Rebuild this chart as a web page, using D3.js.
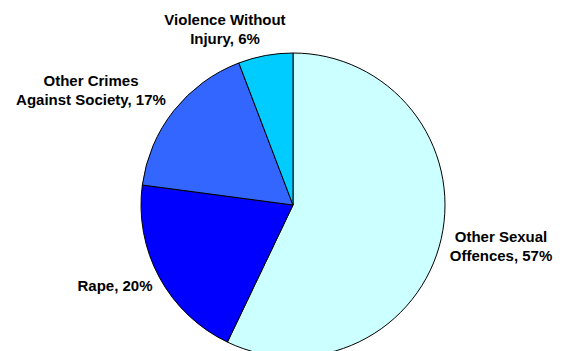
<!DOCTYPE html>
<html>
<head>
<meta charset="utf-8">
<script src="https://cdn.jsdelivr.net/npm/d3@7"></script>
<style>
	html, body { margin: 0; padding: 0; background: #fff; }
	svg { display: block; }
</style>
</head>
<body>
<svg id="pie-svg" width="567" height="351"></svg>
<script>
// slices, clockwise from 12 o'clock
const categories = [
	"Other Sexual Offences",
	"Rape",
	"Other Crimes Against Society",
	"Violence Without Injury",
];
const values = [57.1, 20.0, 17.1, 5.8];
// label lines as shown on the chart (the % is added from the data)
const label_lines = [
	["Other Sexual", "Offences"],
	["Rape"],
	["Other Crimes", "Against Society"],
	["Violence Without", "Injury"],
];
const colors = ["#ccffff", "#0000ff", "#3366ff", "#00ccff"];

const svg = d3.select("#pie-svg");
const cx = 293;
const cy = 205;
const radius = 152;

// label block centres, placed by hand like the original
const label_pos = {
	"Other Sexual Offences": [501, 246],
	"Rape": [115, 286],
	"Other Crimes Against Society": [91, 90],
	"Violence Without Injury": [225, 29],
};
const line_h = 19;

const total = d3.sum(values);
const data = categories.map((c, i) => ({
	name: c,
	value: values[i],
	color: colors[i],
	lines: label_lines[i],
}));

const pie = d3
	.pie()
	.sort(null)
	.value((d) => d.value)
	.startAngle(0)
	.endAngle(2 * Math.PI);

const arc = d3.arc().innerRadius(0).outerRadius(radius);

const g = svg.append("g").attr("transform", `translate(${cx},${cy})`);

g.selectAll("path")
	.data(pie(data))
	.join("path")
	.attr("d", arc)
	.attr("fill", (d) => d.data.color)
	.attr("stroke", "#000")
	.attr("stroke-width", 1)
	.attr("stroke-linejoin", "round");

const label = svg
	.append("g")
	.attr("font-family", "'Liberation Sans', Arial, sans-serif")
	.attr("font-weight", "bold")
	.attr("font-size", 15)
	.attr("fill", "#000")
	.attr("text-anchor", "middle")
	.selectAll("text")
	.data(data)
	.join("text")
	.attr("x", (d) => label_pos[d.name][0])
	.attr("y", (d) => label_pos[d.name][1]);

label.each(function (d) {
	const pct = Math.round((d.value / total) * 100) + "%";
	const lines = d.lines.slice();
	lines[lines.length - 1] += ", " + pct;
	const n = lines.length;
	d3.select(this)
		.selectAll("tspan")
		.data(lines)
		.join("tspan")
		.attr("x", label_pos[d.name][0])
		.attr("y", (t, i) => label_pos[d.name][1] + (i - (n - 1) / 2) * line_h + 5)
		.text((t) => t);
});
</script>
</body>
</html>
